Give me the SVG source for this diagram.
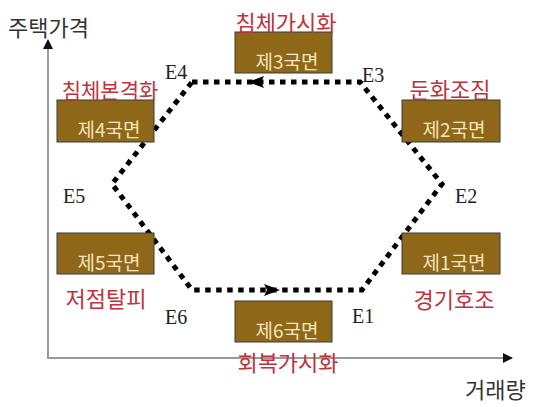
<svg xmlns="http://www.w3.org/2000/svg" width="535" height="407" viewBox="0 0 535 407">
<defs>
<style>
.box{fill:#8e6818;stroke:#3a3a3a;stroke-width:1}
.bt{font-family:"Noto Sans CJK KR","Noto Sans",sans-serif;font-size:19px;fill:#f3e4bd;text-anchor:middle}
.rl{font-family:"Noto Sans CJK KR",sans-serif;font-size:22px;fill:#c0323c;text-anchor:middle}
.el{font-family:"Liberation Serif",serif;font-size:20px;fill:#222}
.ax{font-family:"Noto Sans CJK KR",sans-serif;font-size:22px;fill:#333}
.axis{stroke:#9a9a9a;stroke-width:2;fill:none}
.dots{stroke:#000;stroke-width:5;stroke-dasharray:5.5 5.5;fill:none}
</style>
<marker id="ah" viewBox="0 0 10 10" refX="9" refY="5" markerWidth="5" markerHeight="5" orient="auto" markerUnits="strokeWidth">
<path d="M0,0 L10,5 L0,10 z" fill="#111"/>
</marker>
</defs>
<rect width="535" height="407" fill="#fff"/>
<g id="axes">
<line class="axis" x1="48" y1="358" x2="48" y2="40" marker-end="url(#ah)"/>
<line class="axis" x1="47" y1="358" x2="512" y2="358" marker-end="url(#ah)"/>
<text class="ax" x="8" y="36">주택가격</text>
<text class="ax" x="465" y="398">거래량</text>
</g>
<g id="connectors">
<path class="dots" d="M192,82 L360,82 L442,184 L362,290 L192,290 L112,184 Z"/>
<path d="M248,82 L264,76 L261,82 L264,88 Z" fill="#000"/>
<path d="M280,290 L264,284 L267,290 L264,296 Z" fill="#000"/>
</g>
<g id="q3"><rect class="box" x="235" y="32" width="97" height="41"/><text class="bt" x="287" y="69">제3국면</text><text class="rl" x="286" y="31">침체가시화</text></g>
<g id="q4"><rect class="box" x="57" y="100" width="97" height="42"/><text class="bt" x="109" y="137">제4국면</text><text class="rl" x="110" y="98" style="font-size:21px">침체본격화</text></g>
<g id="q2"><rect class="box" x="402" y="100" width="98" height="42"/><text class="bt" x="454" y="137">제2국면</text><text class="rl" x="450" y="98">둔화조짐</text></g>
<g id="q5"><rect class="box" x="57" y="233" width="97" height="41"/><text class="bt" x="109" y="270">제5국면</text><text class="rl" x="106" y="307">저점탈피</text></g>
<g id="q1"><rect class="box" x="402" y="233" width="98" height="41"/><text class="bt" x="454" y="270">제1국면</text><text class="rl" x="454" y="308">경기호조</text></g>
<g id="q6"><rect class="box" x="235" y="301" width="97" height="41"/><text class="bt" x="287" y="338">제6국면</text><text class="rl" x="288" y="371">회복가시화</text></g>
<g id="e-labels">
<text class="el" x="165" y="79">E4</text>
<text class="el" x="362" y="82">E3</text>
<text class="el" x="455" y="203">E2</text>
<text class="el" x="63" y="203">E5</text>
<text class="el" x="165" y="324">E6</text>
<text class="el" x="352" y="323">E1</text>
</g>
</svg>
